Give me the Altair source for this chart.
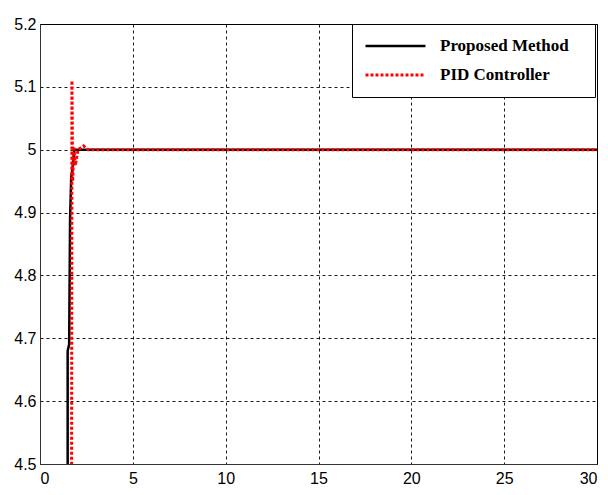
import altair as alt
import pandas as pd

# Proposed Method (black, solid)
black_t = [0, 1.49, 1.49, 1.57, 1.62, 1.68, 1.75, 1.85, 2.0, 30]
black_y = [4.0, 4.0, 4.68, 4.69, 4.89, 4.955, 4.97, 5.0, 5.0, 5.0]

# PID Controller (red, dotted)
red_t = [0, 1.69, 1.72, 1.76, 1.82, 1.9, 2.05, 2.35, 2.6, 30]
red_y = [4.0, 4.0, 5.11, 4.95, 5.005, 4.975, 5.0, 5.006, 5.0, 5.0]

series_names = ["Proposed Method", "PID Controller"]
x_ticks = [0, 5, 10, 15, 20, 25, 30]
y_ticks = [4.5, 4.6, 4.7, 4.8, 4.9, 5.0, 5.1, 5.2]

rows = []
for i, (t, y) in enumerate(zip(black_t, black_y)):
    rows.append({"t": t, "y": y, "series": series_names[0], "order": i})
for i, (t, y) in enumerate(zip(red_t, red_y)):
    rows.append({"t": t, "y": y, "series": series_names[1], "order": i})
df = pd.DataFrame(rows)

leg = alt.Legend(title=" ", titleOrient="right", titlePadding=14,
                 orient="none", legendX=312, legendY=0)

chart = alt.Chart(df).mark_line(clip=True, strokeCap="butt").encode(
    x=alt.X("t:Q", scale=alt.Scale(domain=[0, 30], nice=False),
            axis=alt.Axis(values=x_ticks, title=None, format="~g")),
    y=alt.Y("y:Q", scale=alt.Scale(domain=[4.5, 5.2], nice=False, zero=False),
            axis=alt.Axis(values=y_ticks, title=None, format="~g")),
    color=alt.Color("series:N", sort=series_names,
                    scale=alt.Scale(domain=series_names, range=["#000000", "#ff0000"]),
                    legend=leg),
    strokeDash=alt.StrokeDash("series:N", sort=series_names,
                              scale=alt.Scale(domain=series_names, range=[[1, 0], [3, 2]]),
                              legend=leg),
    strokeWidth=alt.StrokeWidth("series:N", sort=series_names,
                                scale=alt.Scale(domain=series_names, range=[2.5, 3]),
                                legend=None),
    order=alt.Order("order:Q"),
    detail="series:N",
).properties(
    width=557, height=440,
    autosize=alt.AutoSizeParams(type="none"),
    padding={"left": 32, "top": 16, "right": 3, "bottom": 31},
).configure_view(
    stroke="#000000", strokeWidth=1
).configure_axis(
    grid=True, gridColor="#000000", gridDash=[3, 3], gridOpacity=0.9, gridWidth=1,
    domainColor="#333333", domainWidth=1, tickSize=0,
    labelFont="Liberation Sans", labelFontSize=16, labelColor="#000000",
    labelPadding=4,
).configure_axisX(labelPadding=6).configure_legend(
    strokeColor="#000000", fillColor="#ffffff", padding=12,
    labelFont="Liberation Serif", labelFontWeight="bold", labelFontSize=17,
    labelColor="#000000", symbolType="stroke", symbolSize=3600, clipHeight=20,
    symbolStrokeWidth=3, rowPadding=9, labelOffset=13, cornerRadius=0,
    titleFontSize=15,
)

chart.save("out.html", embed_options={"renderer": "svg", "actions": False})
